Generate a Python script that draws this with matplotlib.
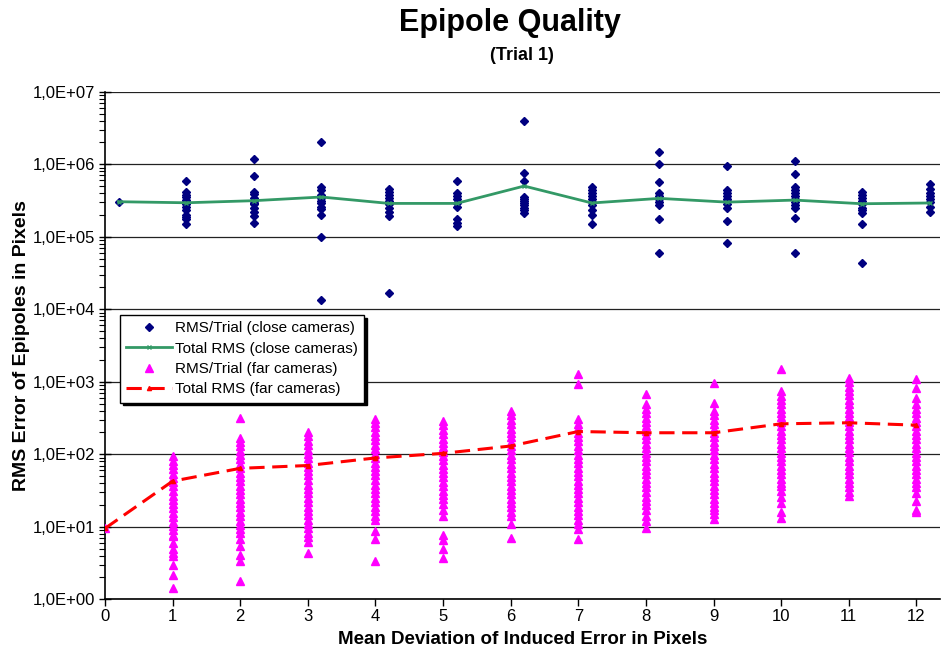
import numpy as np
import matplotlib
matplotlib.use('Agg')
import matplotlib.pyplot as plt
from matplotlib.ticker import FuncFormatter, LogLocator, NullFormatter

plt.rcParams['font.family'] = ['Liberation Sans', 'DejaVu Sans']

# mean deviation of induced error (pixels)
dev = [0, 1, 2, 3, 4, 5, 6, 7, 8, 9, 10, 11, 12]
close_offset = 0.2   # close-camera series is drawn shifted right

# RMS per trial, close cameras
close_trials = [
    [3.04e5],
    [5.9e5, 4.2e5, 3.8e5, 3.5e5, 3.2e5, 3.0e5, 2.8e5, 2.6e5, 2.3e5, 2.0e5, 1.9e5, 1.75e5, 1.5e5],
    [1.19e6, 6.8e5, 4.2e5, 3.9e5, 3.4e5, 3.1e5, 2.9e5, 2.8e5, 2.46e5, 2.2e5, 1.93e5, 1.56e5],
    [2.0e6, 4.9e5, 4.4e5, 3.8e5, 3.4e5, 3.1e5, 2.9e5, 2.6e5, 2.4e5, 2.0e5, 1.0e5, 1.34e4],
    [4.5e5, 4.2e5, 3.8e5, 3.4e5, 3.1e5, 2.8e5, 2.5e5, 2.2e5, 1.93e5, 1.66e4],
    [5.9e5, 4.0e5, 3.7e5, 3.3e5, 2.9e5, 2.6e5, 1.75e5, 1.55e5, 1.4e5],
    [4.0e6, 7.6e5, 5.9e5, 3.5e5, 3.3e5, 3.1e5, 2.9e5, 2.7e5, 2.5e5, 2.3e5, 2.1e5],
    [4.9e5, 4.4e5, 4.0e5, 3.6e5, 3.3e5, 3.0e5, 2.7e5, 2.3e5, 2.0e5, 1.5e5],
    [1.46e6, 1.0e6, 5.6e5, 4.0e5, 3.6e5, 3.3e5, 3.0e5, 2.7e5, 1.75e5, 5.9e4],
    [9.4e5, 4.4e5, 4.0e5, 3.6e5, 3.3e5, 3.1e5, 2.8e5, 2.5e5, 1.65e5, 8.1e4],
    [1.1e6, 7.4e5, 4.9e5, 4.4e5, 4.0e5, 3.6e5, 3.3e5, 3.0e5, 2.7e5, 2.5e5, 1.8e5, 6.0e4],
    [4.2e5, 3.8e5, 3.4e5, 3.1e5, 2.8e5, 2.5e5, 2.3e5, 2.1e5, 1.5e5, 4.4e4],
    [5.3e5, 4.6e5, 4.0e5, 3.6e5, 3.3e5, 3.0e5, 2.6e5, 2.2e5],
]
close_total = [3.04e5, 2.94e5, 3.14e5, 3.53e5, 2.88e5, 2.88e5, 5.0e5,
               2.92e5, 3.38e5, 3.0e5, 3.2e5, 2.85e5, 2.92e5]

# RMS per trial, far cameras
far_trials = [
    [9.5],
    [94, 82, 71, 62, 54, 47, 41, 36, 31, 27, 23.5, 20.5, 18, 15.5, 13.5, 11.8, 10.2,
     8.9, 7.8, 7.4, 6.0, 4.9, 4.4, 3.9, 3.0, 2.15, 1.44],
    [318, 169, 148, 129, 112, 98, 85, 74, 64, 56, 49, 43, 37, 32, 28, 24.5, 21, 18.5,
     16, 14, 12.2, 10.6, 9.3, 8.3, 6.7, 5.4, 4.1, 3.4, 1.78],
    [202, 176, 153, 133, 116, 101, 88, 77, 67, 58, 51, 44, 38, 33, 29, 25, 22, 19,
     16.5, 14.5, 12.5, 11, 9.5, 8.3, 7.2, 6.2, 4.4],
    [302, 272, 236, 205, 178, 155, 135, 117, 102, 89, 77, 67, 58, 51, 44, 38, 33, 29,
     25, 22, 19, 16.5, 14.3, 12.5, 8.7, 6.7, 3.4],
    [286, 250, 218, 190, 165, 144, 125, 109, 95, 83, 72, 63, 55, 48, 42, 36, 31.5,
     27.5, 24, 20.3, 17, 14, 7.8, 6.6, 5.0, 3.7],
    [394, 343, 298, 260, 226, 197, 171, 149, 130, 113, 98, 85, 74, 65, 56, 49, 43, 37,
     32, 28, 24, 21, 18.5, 16, 14, 10.8, 7.0],
    [1260, 918, 302, 263, 229, 199, 173, 151, 131, 114, 99, 86, 75, 65, 57, 50, 43, 38,
     33, 29, 25, 22, 19, 16.5, 14.4, 12.5, 10.9, 9.2, 6.7],
    [668, 486, 423, 368, 320, 278, 242, 211, 183, 160, 139, 121, 105, 92, 80, 70, 61,
     53, 46, 40, 35, 30, 26, 23, 20, 17.3, 14, 12, 9.7],
    [968, 513, 394, 343, 298, 260, 226, 197, 171, 149, 130, 113, 98, 85, 74, 65, 56,
     49, 43, 37, 32, 28, 24, 21, 19, 17.3, 15, 13],
    [1480, 743, 646, 562, 489, 425, 370, 322, 280, 243, 212, 184, 160, 139, 121, 105,
     92, 80, 70, 61, 53, 46, 40, 36, 31, 26, 21, 16, 13.3],
    [1135, 987, 858, 746, 649, 564, 491, 427, 371, 323, 281, 244, 212, 185, 161, 140,
     122, 106, 92, 80, 70, 61, 53, 46, 40, 35, 30.5, 26.5],
    [1076, 826, 601, 486, 423, 368, 320, 278, 242, 211, 183, 160, 139, 121, 105, 92,
     80, 70, 61, 53, 46, 40, 35, 29.4, 22.6, 17, 16],
]
far_total = [9.5, 42.6, 64, 70, 89, 103, 130, 206, 198, 198, 263, 272, 252]

navy = '#000080'
green = '#339966'
magenta = '#FF00FF'
red = '#FF0000'

fig = plt.figure(figsize=(9.42, 6.59), dpi=100)
fig.patch.set_facecolor('white')
ax = fig.add_axes([105/942, 1-599.3/659, 835/942, (599.3-91.7)/659])

ax.set_yscale('log')
ax.set_ylim(1, 1e7)
ax.set_xlim(0, 12.35)

# close cameras
cx, cy = [], []
for d, vals in zip(dev, close_trials):
    cx += [d + close_offset]*len(vals)
    cy += vals
ax.plot(cx, cy, linestyle='none', marker='D', ms=4, color=navy, mec=navy,
        label='RMS/Trial (close cameras)', zorder=3)
ax.plot([d + close_offset for d in dev], close_total, color=green, lw=2,
        marker='x', ms=3, mew=1, label='Total RMS (close cameras)', zorder=4)

# far cameras
fx, fy = [], []
for d, vals in zip(dev, far_trials):
    fx += [d]*len(vals)
    fy += vals
ax.plot(fx, fy, linestyle='none', marker='^', ms=5.5, color=magenta, mec=magenta,
        label='RMS/Trial (far cameras)', zorder=3)
ax.plot(dev, far_total, color=red, lw=2.2, linestyle=(0, (5, 2.5)),
        marker='^', ms=3, label='Total RMS (far cameras)', zorder=4)

ax.yaxis.set_major_locator(LogLocator(base=10, numticks=10))
ax.yaxis.set_minor_locator(LogLocator(base=10, subs=np.arange(2, 10), numticks=10))
ax.yaxis.set_minor_formatter(NullFormatter())
ax.yaxis.set_major_formatter(FuncFormatter(lambda v, p: '1,0E+%02d' % int(round(np.log10(v)))))
ax.set_xticks(dev)

ax.grid(True, which='major', axis='y', color='#222222', lw=0.9)
ax.set_axisbelow(True)
for s in ['top', 'right']:
    ax.spines[s].set_visible(False)
ax.spines['left'].set_linewidth(1.2)
ax.spines['bottom'].set_linewidth(1.2)

ax.tick_params(axis='y', which='major', direction='inout', length=8, width=1, labelsize=12, pad=3)
ax.tick_params(axis='y', which='minor', direction='out', length=4, width=0.8)
ax.tick_params(axis='x', which='major', direction='out', length=5, width=1, labelsize=12, pad=2)

ax.set_xlabel('Mean Deviation of Induced Error in Pixels', fontsize=13.5, fontweight='bold', labelpad=5)
ax.set_ylabel('RMS Error of Epipoles in Pixels', fontsize=14, fontweight='bold', labelpad=2)

fig.text(510/942, 1-23/659, 'Epipole Quality', fontsize=22, fontweight='bold',
         ha='center', va='center')
fig.text(522/942, 1-56/659, '(Trial 1)', fontsize=13, fontweight='bold',
         ha='center', va='center')

leg = ax.legend(loc='upper left', bbox_to_anchor=(0.018, 0.56), borderaxespad=0,
                fontsize=11, frameon=True, fancybox=False, handlelength=3.0,
                labelspacing=0.42, borderpad=0.4, handletextpad=0.2,
                shadow={'color': 'black', 'alpha': 1}, framealpha=1)
leg.get_frame().set_edgecolor('black')
leg.get_frame().set_linewidth(1)

fig.savefig('out.png', dpi=100)
